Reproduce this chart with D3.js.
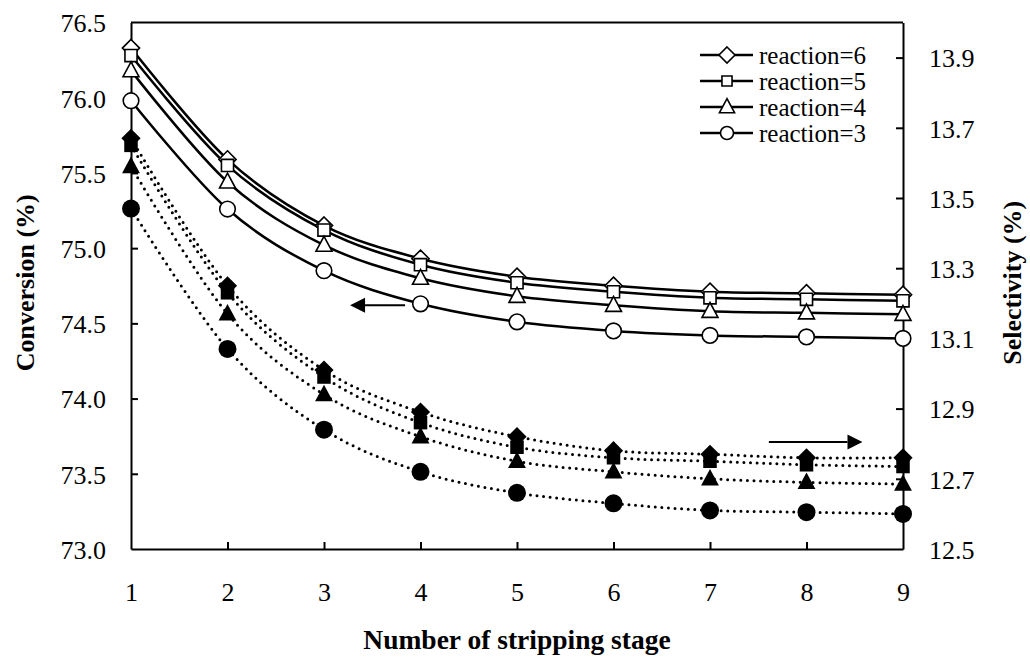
<!DOCTYPE html>
<html>
<head>
<meta charset="utf-8">
<script src="https://cdn.jsdelivr.net/npm/d3@7"></script>
<style>
  body { margin: 0; background: #fff; }
  svg text { font-family: "Liberation Serif", "Times New Roman", "DejaVu Serif", serif; fill: #000; }
</style>
</head>
<body>
<div id="chart"></div>
<script>
const width = 1030;
const height = 659;
const serif = "'Liberation Serif', 'Times New Roman', 'DejaVu Serif', serif";

// data
const stages = [1, 2, 3, 4, 5, 6, 7, 8, 9];
const reactions = [6, 5, 4, 3];
const markers = ["diamond", "square", "triangle", "circle"];

const conv6 = [76.33, 75.59, 75.15, 74.93, 74.81, 74.75, 74.71, 74.70, 74.69];
const conv5 = [76.28, 75.55, 75.12, 74.89, 74.77, 74.71, 74.67, 74.66, 74.65];
const conv4 = [76.18, 75.44, 75.02, 74.80, 74.68, 74.62, 74.58, 74.57, 74.56];
const conv3 = [75.98, 75.26, 74.85, 74.63, 74.51, 74.45, 74.42, 74.41, 74.40];

const sel6 = [13.67, 13.25, 13.01, 12.89, 12.82, 12.78, 12.77, 12.76, 12.76];
const sel5 = [13.65, 13.23, 12.99, 12.86, 12.79, 12.76, 12.75, 12.74, 12.735];
const sel4 = [13.59, 13.17, 12.94, 12.82, 12.75, 12.72, 12.70, 12.69, 12.685];
const sel3 = [13.47, 13.07, 12.84, 12.72, 12.66, 12.63, 12.61, 12.605, 12.60];

const convTicks = [73.0, 73.5, 74.0, 74.5, 75.0, 75.5, 76.0, 76.5];
const selTicks = [12.5, 12.7, 12.9, 13.1, 13.3, 13.5, 13.7, 13.9];

const conversion = [conv6, conv5, conv4, conv3];
const selectivity = [sel6, sel5, sel4, sel3];

const plot = { left: 131, right: 903, top: 22.5, bottom: 549 };

const svg = d3.select("#chart")
  .append("svg")
  .attr("width", width)
  .attr("height", height)
  .attr("font-family", serif);

const x = d3.scaleLinear().domain([1, 9]).range([plot.left, plot.right]);
const yL = d3.scaleLinear().domain([73, 76.5]).range([plot.bottom, plot.top]);
const yR = d3.scaleLinear().domain([12.5, 14.0]).range([plot.bottom, plot.top]);

// marker shapes
function shape(type, s) {
  if (type === "diamond") return `M0,${-s}L${s},0L0,${s}L${-s},0Z`;
  if (type === "square") { const h = s * 0.72; return `M${-h},${-h}H${h}V${h}H${-h}Z`; }
  if (type === "triangle") return `M0,${-s * 1.05}L${s * 0.95},${s * 0.72}L${-s * 0.95},${s * 0.72}Z`;
  return `M${s},0A${s},${s} 0 1 1 ${-s},0A${s},${s} 0 1 1 ${s},0Z`;
}
const openSize = { diamond: 8.6, square: 8.4, triangle: 8.4, circle: 7.8 };
const fillSize = { diamond: 9.6, square: 9.4, triangle: 9.4, circle: 9 };

// frame
svg.append("line")
  .attr("x1", plot.left).attr("x2", plot.right)
  .attr("y1", plot.top).attr("y2", plot.top)
  .attr("stroke", "#000").attr("stroke-width", 2);

const axisFont = 26;

const gx = svg.append("g")
  .attr("transform", `translate(0,${plot.bottom})`)
  .call(d3.axisBottom(x).tickValues(stages).tickFormat(d3.format("d"))
    .tickSizeInner(-7).tickSizeOuter(0).tickPadding(34));

const gl = svg.append("g")
  .attr("transform", `translate(${plot.left},0)`)
  .call(d3.axisLeft(yL).tickValues(convTicks).tickFormat(d3.format(".1f"))
    .tickSizeInner(-7).tickSizeOuter(0).tickPadding(25));

const gr = svg.append("g")
  .attr("transform", `translate(${plot.right},0)`)
  .call(d3.axisRight(yR).tickValues(selTicks).tickFormat(d3.format(".1f"))
    .tickSizeInner(-7).tickSizeOuter(0).tickPadding(26));

[gx, gl, gr].forEach(g => {
  g.attr("font-family", serif).attr("font-size", axisFont);
  g.select(".domain").attr("stroke-width", 2);
  g.selectAll(".tick line").attr("stroke-width", 2);
});
gl.selectAll(".tick text").attr("dy", "0.36em");
gr.selectAll(".tick text").attr("dy", "0.36em");
// no tick marks at the plot corners
gl.selectAll(".tick line").filter(d => d === 73 || d === 76.5).remove();
gr.selectAll(".tick line").filter(d => d === 12.5).remove();
gx.selectAll(".tick line").filter(d => d === 1 || d === 9).remove();

// axis titles
svg.append("text")
  .attr("transform", `translate(34,${(plot.top + plot.bottom) / 2 - 3}) rotate(-90)`)
  .attr("text-anchor", "middle")
  .attr("font-size", 26).attr("font-weight", "bold")
  .text("Conversion (%)");

svg.append("text")
  .attr("transform", `translate(1021,${(plot.top + plot.bottom) / 2 - 3}) rotate(-90)`)
  .attr("text-anchor", "middle")
  .attr("font-size", 26).attr("font-weight", "bold")
  .text("Selectivity (%)");

svg.append("text")
  .attr("x", (plot.left + plot.right) / 2)
  .attr("y", 649)
  .attr("text-anchor", "middle")
  .attr("font-size", 27.5).attr("font-weight", "bold")
  .text("Number of stripping stage");

const curve = d3.curveCatmullRom.alpha(0);

// selectivity: dotted lines, filled markers
selectivity.forEach((vals, i) => {
  const pts = stages.map((s, j) => [s, vals[j]]);
  svg.append("path")
    .datum(pts)
    .attr("fill", "none")
    .attr("stroke", "#000")
    .attr("stroke-width", 3)
    .attr("stroke-linecap", "round")
    .attr("stroke-dasharray", "0 6.6")
    .attr("d", d3.line().x(d => x(d[0])).y(d => yR(d[1])).curve(curve));
});
selectivity.forEach((vals, i) => {
  svg.append("g").selectAll("path")
    .data(stages.map((s, j) => [s, vals[j]]))
    .enter()
    .append("path")
    .attr("transform", d => `translate(${x(d[0])},${yR(d[1])})`)
    .attr("d", shape(markers[i], fillSize[markers[i]]))
    .attr("fill", "#000");
});

// conversion: solid lines, open markers
conversion.forEach((vals, i) => {
  const pts = stages.map((s, j) => [s, vals[j]]);
  svg.append("path")
    .datum(pts)
    .attr("fill", "none")
    .attr("stroke", "#000")
    .attr("stroke-width", 2.5)
    .attr("d", d3.line().x(d => x(d[0])).y(d => yL(d[1])).curve(curve));
});
conversion.forEach((vals, i) => {
  svg.append("g").selectAll("path")
    .data(stages.map((s, j) => [s, vals[j]]))
    .enter()
    .append("path")
    .attr("transform", d => `translate(${x(d[0])},${yL(d[1])})`)
    .attr("d", shape(markers[i], openSize[markers[i]]))
    .attr("fill", "#fff")
    .attr("stroke", "#000")
    .attr("stroke-width", 1.6);
});

// arrows pointing to each axis
function arrow(x1, x2, y, dir) {
  const g = svg.append("g");
  const tip = dir < 0 ? x1 : x2;
  const base = tip - dir * 15;
  g.append("line")
    .attr("x1", dir < 0 ? base : x1).attr("x2", dir < 0 ? x2 : base)
    .attr("y1", y).attr("y2", y)
    .attr("stroke", "#000").attr("stroke-width", 2);
  g.append("path")
    .attr("d", `M${tip},${y}L${base},${y - 7.5}L${base},${y + 7.5}Z`)
    .attr("fill", "#000");
}
arrow(x(3.27), x(3.84), yL(74.62), -1);
arrow(x(7.61), x(8.58), yR(12.805), 1);

// legend
const legend = svg.append("g").attr("transform", "translate(700,55)");
const legendSize = { diamond: 8, square: 7, triangle: 8, circle: 6.5 };
reactions.forEach((r, i) => {
  const row = legend.append("g").attr("transform", `translate(0,${i * 26})`);
  row.append("line")
    .attr("x1", 0).attr("x2", 53)
    .attr("stroke", "#000").attr("stroke-width", 2.5);
  row.append("path")
    .attr("transform", "translate(27,0)")
    .attr("d", shape(markers[i], legendSize[markers[i]]))
    .attr("fill", "#fff").attr("stroke", "#000").attr("stroke-width", 1.6);
  row.append("text")
    .attr("x", 59).attr("y", 8.5)
    .attr("font-size", 25)
    .text("reaction=" + r);
});
</script>
</body>
</html>
